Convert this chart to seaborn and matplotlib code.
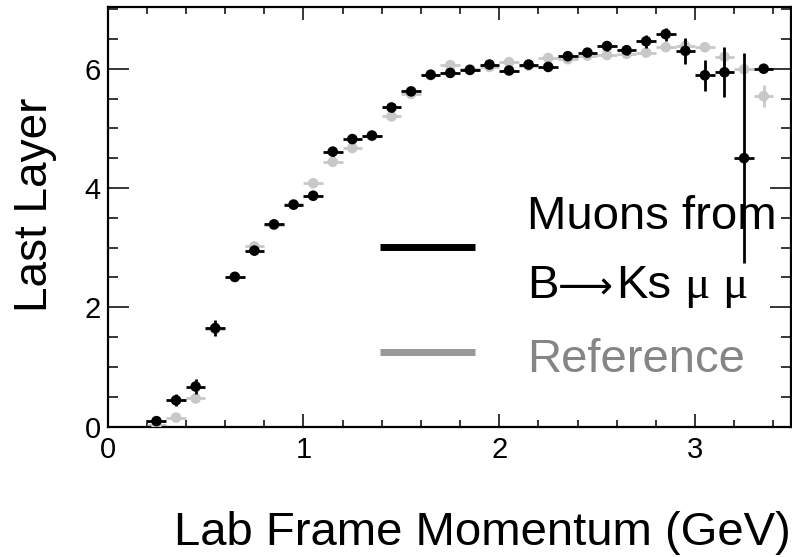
import numpy as np
import pandas as pd
import matplotlib
matplotlib.use("Agg")
import matplotlib.pyplot as plt
import seaborn as sns
from matplotlib.ticker import MultipleLocator
from matplotlib.lines import Line2D

# ---------------- data ----------------
momentum = [0.25, 0.35, 0.45, 0.55, 0.65, 0.75, 0.85, 0.95, 1.05, 1.15, 1.25,
            1.35, 1.45, 1.55, 1.65, 1.75, 1.85, 1.95, 2.05, 2.15, 2.25, 2.35,
            2.45, 2.55, 2.65, 2.75, 2.85, 2.95, 3.05, 3.15, 3.25, 3.35]

signal_layer = [0.09, 0.44, 0.67, 1.65, 2.51, 2.95, 3.39, 3.72, 3.87, 4.61, 4.82,
                4.88, 5.35, 5.62, 5.90, 5.93, 5.98, 6.07, 5.97, 6.07, 6.03, 6.21,
                6.27, 6.38, 6.31, 6.46, 6.58, 6.30, 5.89, 5.94, 4.50, 6.00]
signal_err = [0.05, 0.10, 0.12, 0.14, 0.07, 0.07, 0.06, 0.06, 0.07, 0.07, 0.07,
              0.05, 0.07, 0.05, 0.05, 0.05, 0.05, 0.05, 0.06, 0.05, 0.06, 0.06,
              0.06, 0.08, 0.08, 0.11, 0.11, 0.22, 0.26, 0.42, 1.76, 0.03]

reference_layer = [0.02, 0.15, 0.47, 1.63, 2.50, 3.02, 3.38, 3.73, 4.08, 4.44, 4.67,
                   4.87, 5.20, 5.58, 5.89, 6.06, 5.99, 6.03, 6.11, 6.05, 6.18, 6.16,
                   6.22, 6.23, 6.25, 6.27, 6.36, 6.38, 6.36, 6.20, 5.99, 5.54]
reference_err = [0.03, 0.04, 0.04, 0.05, 0.04, 0.04, 0.03, 0.03, 0.03, 0.03, 0.03,
                 0.03, 0.03, 0.03, 0.03, 0.03, 0.03, 0.03, 0.03, 0.03, 0.03, 0.03,
                 0.03, 0.03, 0.03, 0.04, 0.05, 0.08, 0.06, 0.12, 0.05, 0.18]

bin_half_width = 0.05

x_ticks = [0, 1, 2, 3]
y_ticks = [0, 2, 4, 6]

# ---------------- style ----------------
sns.set_style("ticks")
plt.rcParams["font.family"] = ["Liberation Sans", "DejaVu Sans"]

W, H = 792, 557
fig = plt.figure(figsize=(W / 100, H / 100), dpi=100)
ax_l, ax_r, ax_t, ax_b = 107.5, 790.5, 7.3, 426.5
ax = fig.add_axes([ax_l / W, 1 - ax_b / H, (ax_r - ax_l) / W, (ax_b - ax_t) / H])

ref_df = pd.DataFrame({"p": momentum, "layer": reference_layer, "err": reference_err})
sig_df = pd.DataFrame({"p": momentum, "layer": signal_layer, "err": signal_err})

ref_color = "#c8c8c8"
sig_color = "#000000"

ax.errorbar(ref_df["p"], ref_df["layer"], xerr=bin_half_width, yerr=ref_df["err"],
            fmt="none", ecolor=ref_color, elinewidth=2.0, capsize=0, zorder=2)
sns.scatterplot(data=ref_df, x="p", y="layer", color=ref_color, s=58,
                edgecolor="none", linewidth=0, ax=ax, zorder=3, legend=False)

ax.errorbar(sig_df["p"], sig_df["layer"], xerr=bin_half_width, yerr=sig_df["err"],
            fmt="none", ecolor=sig_color, elinewidth=2.0, capsize=0, zorder=4)
sns.scatterplot(data=sig_df, x="p", y="layer", color=sig_color, s=58,
                edgecolor="none", linewidth=0, ax=ax, zorder=5, legend=False)

ax.set_xlim(0, 3.487)
ax.set_ylim(0, 7.03)
ax.set_xticks(x_ticks)
ax.set_yticks(y_ticks)
ax.set_xticklabels([str(v) for v in x_ticks])
ax.set_yticklabels([str(v) for v in y_ticks])
ax.xaxis.set_minor_locator(MultipleLocator(0.2))
ax.yaxis.set_minor_locator(MultipleLocator(0.5))
ax.set_xlabel("")
ax.set_ylabel("")

ax.tick_params(which="both", direction="in", top=True, right=True,
               width=1.1, color="black", labelsize=21, labelcolor="black")
ax.tick_params(axis="x", which="major", length=9.5, pad=7)
ax.tick_params(axis="x", which="minor", length=5)
ax.tick_params(axis="y", which="major", length=15, pad=5)
ax.tick_params(axis="y", which="minor", length=7.5)
for sp in ax.spines.values():
    sp.set_linewidth(1.6)
    sp.set_color("black")
    sp.set_visible(True)

# axis titles
fig.text(ax_r / W, 1 - 545 / H, "Lab Frame Momentum (GeV)", fontsize=34,
         ha="right", va="baseline", color="black")
fig.text(13 / W, 1 - 205 / H, "Last Layer", fontsize=33, rotation=90,
         ha="left", va="center", color="black")

# legend
fig.add_artist(Line2D([380 / W, 475 / W], [1 - 247 / H] * 2, transform=fig.transFigure,
                      color="black", lw=5, solid_capstyle="butt"))
fig.add_artist(Line2D([380 / W, 475 / W], [1 - 352 / H] * 2, transform=fig.transFigure,
                      color="#999999", lw=5, solid_capstyle="butt"))
fig.text(527 / W, 1 - 229 / H, "Muons from", fontsize=34, ha="left", va="baseline",
         color="black")
fig.text(527 / W, 1 - 298 / H, "B", fontsize=34, ha="left", va="baseline",
         color="black")
arrow = fig.text(558 / W, 1 - 298 / H, "\u27f6", fontsize=34, ha="left", va="baseline",
                 color="black", family=["DejaVu Sans"])
# scale the long arrow so that it spans about 55 px, as in the reference
fig.canvas.draw()
aw = arrow.get_window_extent().width
if aw > 0:
    arrow.set_fontsize(34 * 55.0 / aw)
fig.text(616 / W, 1 - 298 / H, "Ks", fontsize=34, ha="left", va="baseline",
         color="black")
fig.text(684 / W, 1 - 298 / H, "\u03bc", fontsize=34, ha="left", va="baseline",
         color="black", family=["Liberation Serif", "DejaVu Serif"])
fig.text(722 / W, 1 - 298 / H, "\u03bc", fontsize=34, ha="left", va="baseline",
         color="black", family=["Liberation Serif", "DejaVu Serif"])
fig.text(527 / W, 1 - 372 / H, "Reference", fontsize=34, ha="left", va="baseline",
         color="#858585")

fig.savefig("out.png", dpi=100, facecolor="white")
